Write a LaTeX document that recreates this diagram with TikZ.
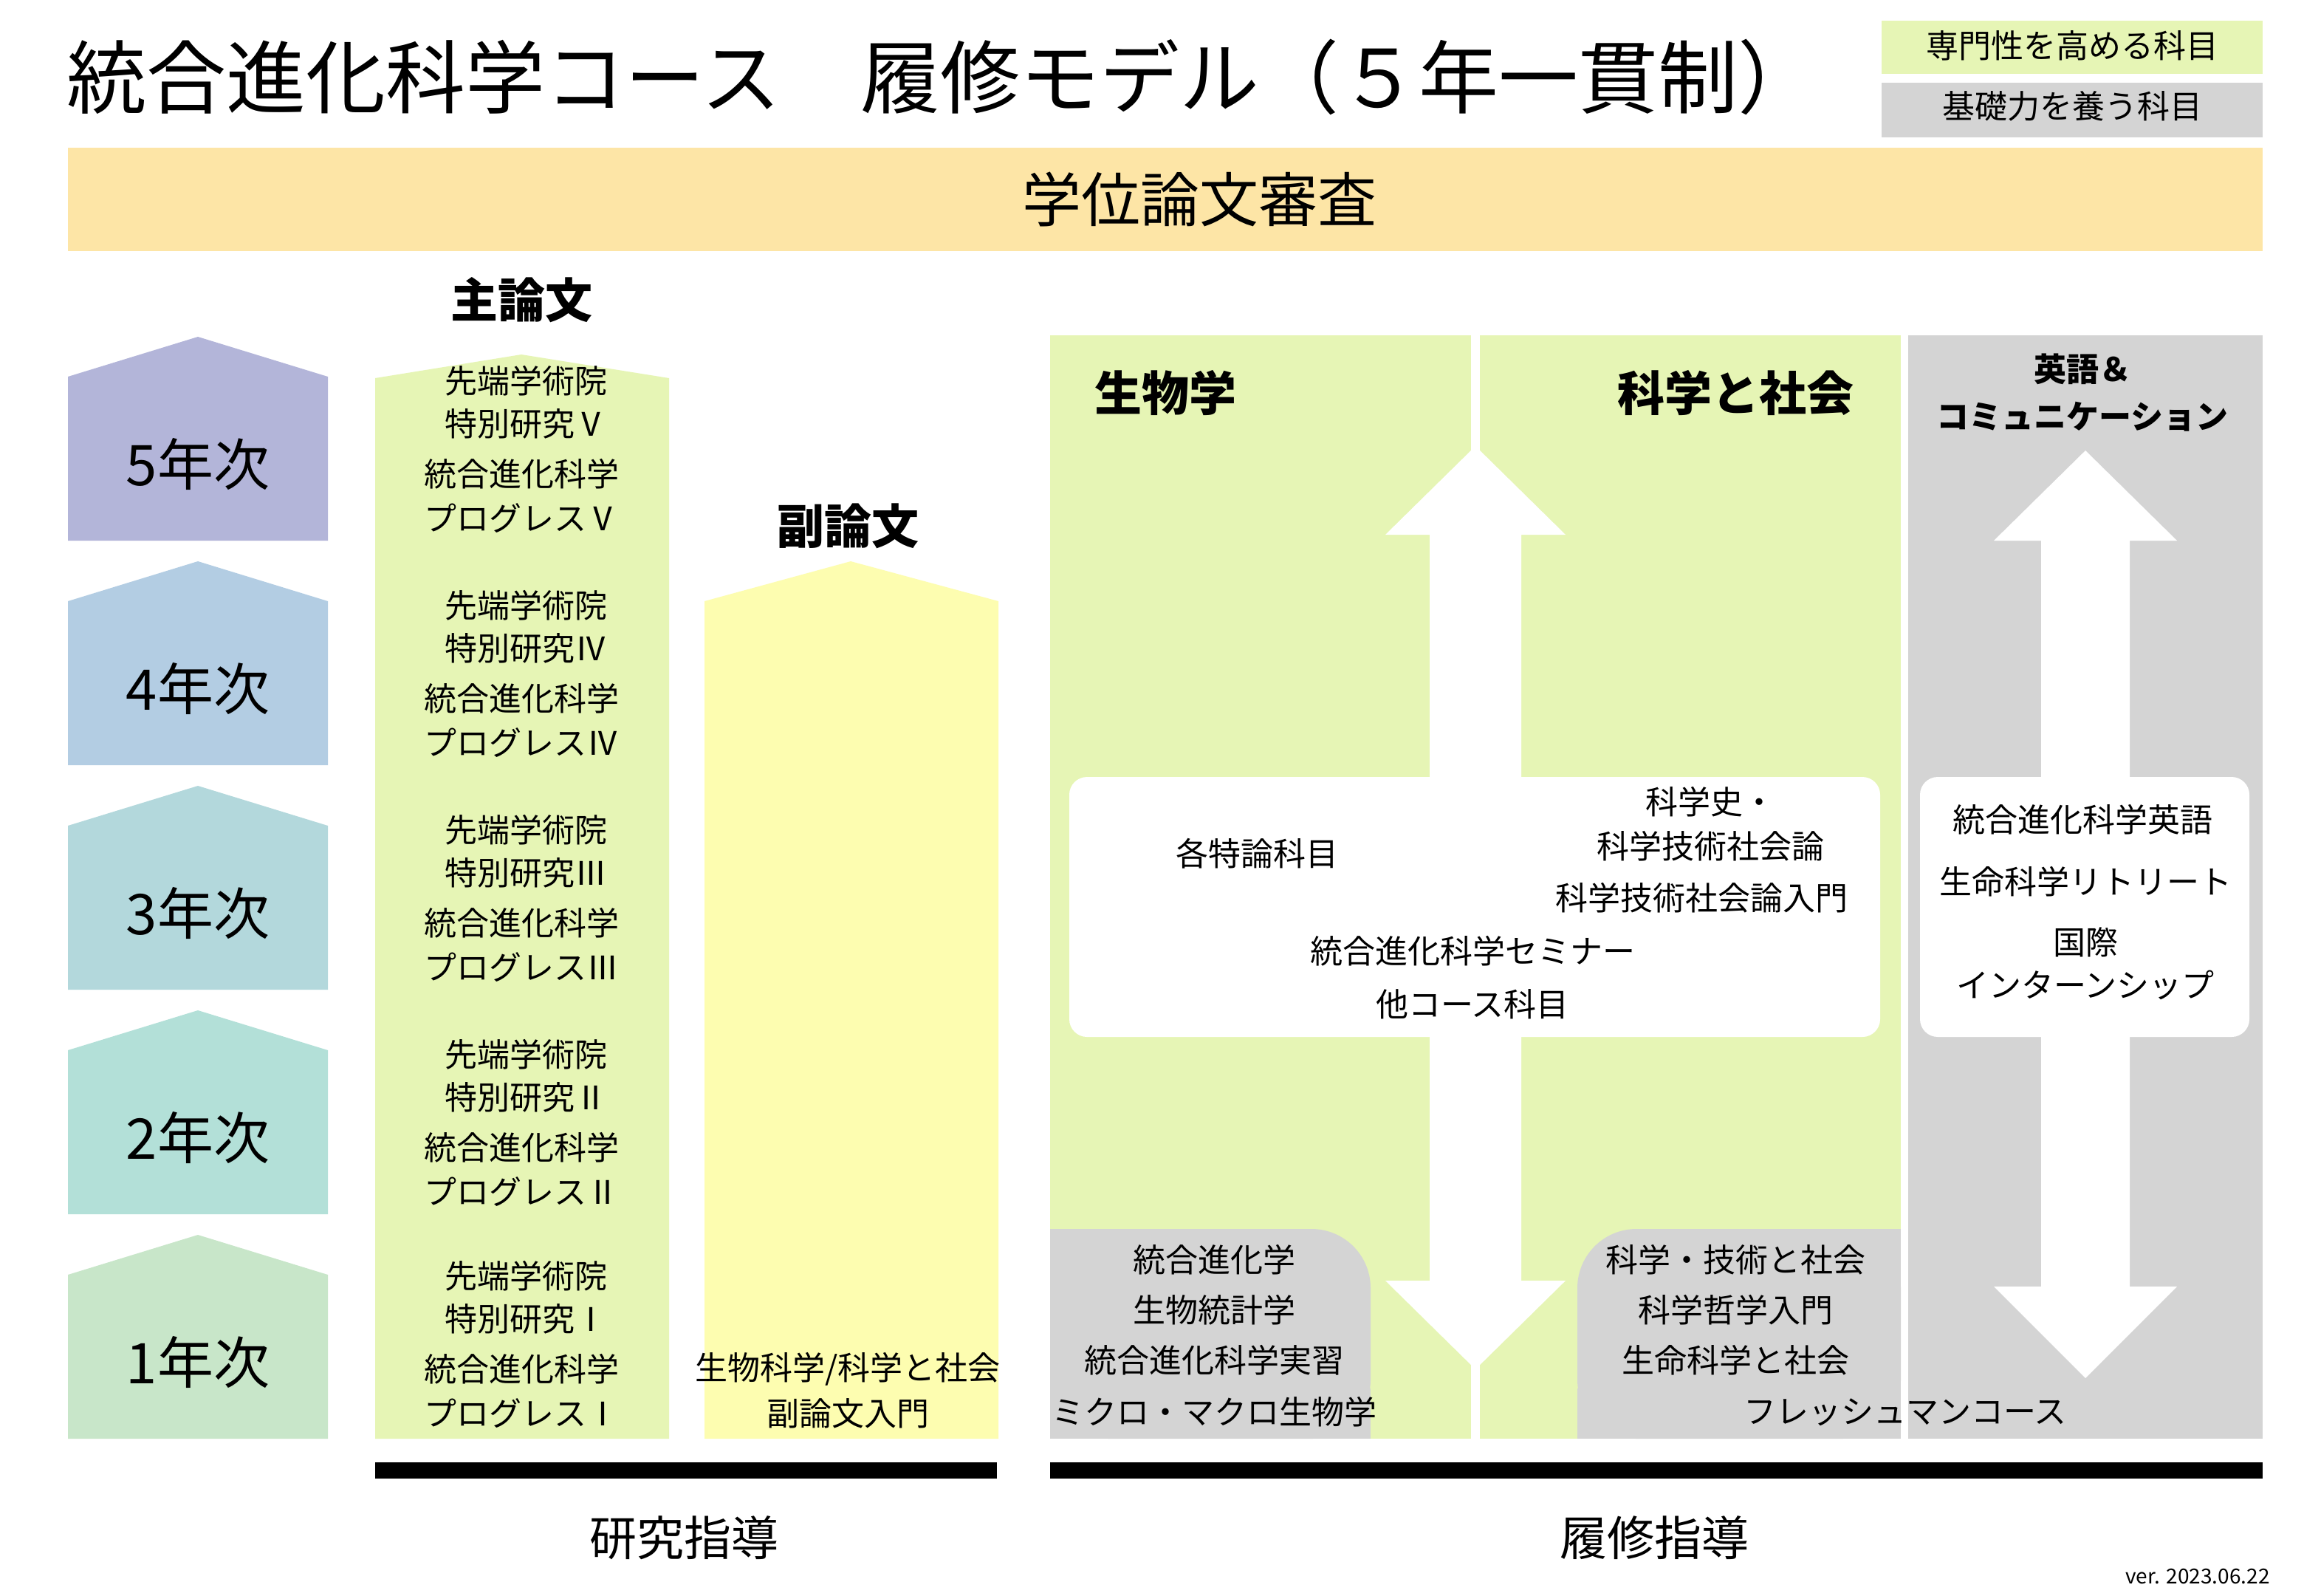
\documentclass[tikz,border=0pt]{standalone}
\usepackage{fontspec}
\setmainfont{Noto Sans CJK JP}
\begin{document}
\begin{tikzpicture}[x=1pt,y=-1pt,
  t/.style={font=\fontsize{22}{24}\selectfont,inner sep=0pt},
  hd/.style={font=\fontsize{32}{34}\selectfont\bfseries,inner sep=0pt},
  yr/.style={font=\fontsize{38}{40}\selectfont,inner sep=0pt}]
\definecolor{gr}{HTML}{E6F5B5}\definecolor{gy}{HTML}{D4D4D4}
\definecolor{yl}{HTML}{FDFDB0}\definecolor{ban}{HTML}{FDE5A6}
\definecolor{y5}{HTML}{B3B5D9}\definecolor{y4}{HTML}{B3CDE3}
\definecolor{y3}{HTML}{B3D8DC}\definecolor{y2}{HTML}{B3E0D8}\definecolor{y1}{HTML}{C8E6C9}
\fill[white] (0,0) rectangle (1560,1080);
\node[inner sep=0pt,anchor=west,font=\fontsize{54}{56}\selectfont] (title) at (45,52) {統合進化科学コース　履修モデル（５年一貫制）};
\fill[gr] (1274,14) rectangle (1532,50); \node[t] (lg1) at (1403,31) {専門性を高める科目};
\fill[gy] (1274,56) rectangle (1532,93); \node[t] (lg2) at (1403,72) {基礎力を養う科目};
\fill[ban] (46,100) rectangle (1532,170); \node[font=\fontsize{40}{42}\selectfont,inner sep=0pt] (ban) at (812,135) {学位論文審査};
% years
\foreach \a/\c/\l in {228/y5/5,380/y4/4,532/y3/3,684/y2/2,836/y1/1}{
  \fill[\c] (46,\a+27) -- (134,\a) -- (222,\a+27) -- (222,\a+138) -- (46,\a+138) -- cycle;
  \node[yr] at (134,\a+86) {\l 年次};}
% main thesis column
\node[hd] (main) at (353,203) {主論文};
\fill[gr] (254,256) -- (353,240) -- (453,256) -- (453,974) -- (254,974) -- cycle;
\foreach \y/\n in {258/Ⅴ,410/Ⅳ,562/Ⅲ,714/Ⅱ,864/Ⅰ}{
  \node[t] at (356,\y) {先端学術院};
  \node[t] at (356,\y+29) {特別研究\n};
  \node[t] at (353,\y+63) {統合進化科学};
  \node[t] at (353,\y+93) {プログレス\n};}
\node[hd] (sub) at (574,356) {副論文};
\fill[yl] (477,407) -- (576,380) -- (676,407) -- (676,974) -- (477,974) -- cycle;
\node[t] at (574,927) {生物科学/科学と社会};
\node[t] at (574,957) {副論文入門};
% course regions
\fill[gr] (711,227) rectangle (996,974);
\fill[gr] (1002,227) rectangle (1287,974);
\fill[gy] (1292,227) rectangle (1532,974);
\fill[white] (999,302) -- (1060,362) -- (1030,362) -- (1030,867) -- (1060,867) -- (999,927) -- (938,867) -- (968,867) -- (968,362) -- (938,362) -- cycle;
\fill[white] (1412,305) -- (1474,366) -- (1442,366) -- (1442,871) -- (1474,871) -- (1412,933) -- (1350,871) -- (1382,871) -- (1382,366) -- (1350,366) -- cycle;
\fill[white,rounded corners=12pt] (724,526) rectangle (1273,702);
\fill[white,rounded corners=12pt] (1300,526) rectangle (1523,702);
\fill[gy,rounded corners=40pt] (711,974) -- (711,832) -- (928,832) -- (928,974) -- cycle;
\fill[gy] (711,832) rectangle (760,974);
\fill[gy,rounded corners=40pt] (1068,974) -- (1068,832) -- (1287,832) -- (1287,974) -- cycle;
\fill[gy] (1240,832) rectangle (1287,974);
\fill[gy] (1068,940) rectangle (1287,974);
\fill[gy] (711,940) rectangle (928,974);
\node[hd] at (789,266) {生物学};
\node[hd] at (1175,266) {科学と社会};
\node[font=\fontsize{22}{24}\selectfont\bfseries,inner sep=0pt] at (1410,250) {英語＆};
\node[font=\fontsize{22}{24}\selectfont\bfseries,inner sep=0pt] at (1410,282) {コミュニケーション};
\node[t] at (851,578) {各特論科目};
\node[t] at (1158,543) {科学史・};
\node[t] at (1158,573) {科学技術社会論};
\node[t] at (1152,608) {科学技術社会論入門};
\node[t] at (997,644) {統合進化科学セミナー};
\node[t] at (997,680) {他コース科目};
\node[t] at (1410,555) {統合進化科学英語};
\node[t] at (1412,597) {生命科学リトリート};
\node[t] at (1412,638) {国際};
\node[t] at (1412,667) {インターンシップ};
\node[t] at (822,853) {統合進化学};
\node[t] at (822,887) {生物統計学};
\node[t] at (822,921) {統合進化科学実習};
\node[t] at (822,956) {ミクロ・マクロ生物学};
\node[t] at (1175,853) {科学・技術と社会};
\node[t] at (1175,887) {科学哲学入門};
\node[t] at (1175,921) {生命科学と社会};
\node[t] at (1290,956) {フレッシュマンコース};
\fill[black] (254,990) rectangle (675,1001);
\fill[black] (711,990) rectangle (1532,1001);
\node[font=\fontsize{32}{34}\selectfont,inner sep=0pt] at (463,1041) {研究指導};
\node[font=\fontsize{32}{34}\selectfont,inner sep=0pt] at (1120,1041) {履修指導};
\node[font=\fontsize{14}{16}\selectfont,inner sep=0pt] at (1488,1067) {ver. 2023.06.22};
\end{tikzpicture}
\end{document}
